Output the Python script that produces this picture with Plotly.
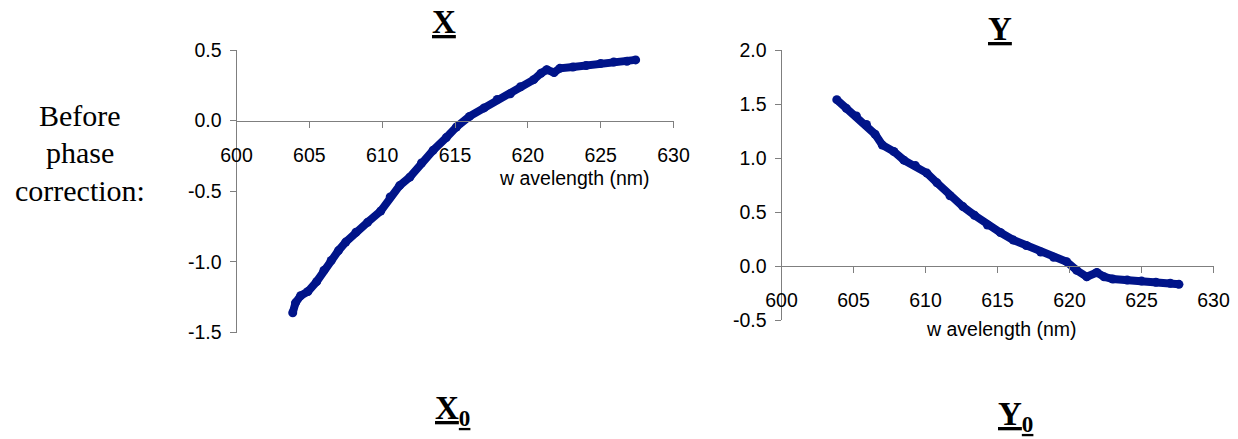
import plotly.graph_objects as go

# ---------------- data ----------------
x_wavelength = [603.86, 604.05, 604.4, 604.9, 605.5, 606.0, 606.5, 607.0, 607.5, 608.2,
                609.0, 609.9, 610.55, 611.2, 611.9, 612.7, 613.5, 614.4, 615.1, 616.0,
                617.0, 617.9, 618.8, 619.5, 620.4, 620.9, 621.3, 621.8, 622.2, 623.1,
                624.0, 625.0, 625.9, 626.8, 627.4]
x_values = [-1.36, -1.29, -1.24, -1.21, -1.14, -1.06, -0.99, -0.92, -0.86, -0.79,
            -0.72, -0.64, -0.54, -0.46, -0.40, -0.30, -0.21, -0.12, -0.045, 0.03,
            0.09, 0.15, 0.19, 0.24, 0.29, 0.335, 0.36, 0.34, 0.37, 0.38,
            0.39, 0.405, 0.415, 0.42, 0.43]

y_wavelength = [603.84, 604.5, 605.2, 605.9, 606.5, 607.0, 607.8, 608.5, 609.3, 610.1,
                610.8, 611.7, 612.6, 613.4, 614.3, 615.2, 616.1, 617.0, 618.0, 618.9,
                619.8, 620.5, 621.2, 621.9, 622.4, 623.0, 624.0, 625.0, 626.0, 627.0,
                627.6]
y_values = [1.54, 1.46, 1.39, 1.31, 1.22, 1.12, 1.06, 0.98, 0.93, 0.86,
            0.77, 0.65, 0.55, 0.47, 0.38, 0.31, 0.24, 0.19, 0.13, 0.08,
            0.04, -0.04, -0.10, -0.06, -0.10, -0.12, -0.13, -0.14, -0.15, -0.16,
            -0.17]

x_ticks = [600, 605, 610, 615, 620, 625, 630]
left_y_ticks = [-1.5, -1.0, -0.5, 0.0, 0.5]
left_y_labels = ["-1.5", "-1.0", "-0.5", "0.0", "0.5"]
right_y_ticks = [-0.5, 0.0, 0.5, 1.0, 1.5, 2.0]
right_y_labels = ["-0.5", "0.0", "0.5", "1.0", "1.5", "2.0"]

W, H = 1238, 439
SERIES_COLOR = "#001489"
AXIS_COLOR = "#7f7f7f"
SANS = "Liberation Sans, Arial, sans-serif"
SERIF = "Liberation Serif, Times New Roman, serif"


def px_x(p):
    return p / W


def px_y(p):
    return 1 - p / H


# plot-area domains (pixels -> paper)
left_xdom = [px_x(236.5), px_x(673.5)]
left_ydom = [px_y(332.5), px_y(50)]
right_xdom = [px_x(781.5), px_x(1213.5)]
right_ydom = [px_y(320), px_y(50)]
left_yrange = [-1.5, 0.5]
right_yrange = [-0.5, 2.0]


def zero_pos(dom, rng):
    return dom[0] + (0 - rng[0]) / (rng[1] - rng[0]) * (dom[1] - dom[0])


fig = go.Figure()
marker_style = dict(color=SERIES_COLOR, size=9)
line_style = dict(color=SERIES_COLOR, width=8)

fig.add_trace(go.Scatter(x=x_wavelength, y=x_values, mode="lines+markers",
                         marker=marker_style, line=line_style,
                         xaxis="x", yaxis="y", showlegend=False))
fig.add_trace(go.Scatter(x=y_wavelength, y=y_values, mode="lines+markers",
                         marker=marker_style, line=line_style,
                         xaxis="x2", yaxis="y2", showlegend=False))

tickfont = dict(family=SANS, size=19.5, color="#000000")

common_x = dict(range=[600, 630], tickvals=x_ticks, ticks="outside", ticklen=6,
                tickcolor=AXIS_COLOR, showline=True, linecolor=AXIS_COLOR, linewidth=1,
                showgrid=False, zeroline=False, tickfont=tickfont, anchor="free",
                side="bottom", ticklabelstandoff=11, automargin=False)
common_y = dict(ticks="outside", ticklen=6, tickcolor=AXIS_COLOR, showline=True,
                linecolor=AXIS_COLOR, linewidth=1, showgrid=False, zeroline=False,
                tickfont=tickfont, ticklabelstandoff=4, automargin=False)

fig.update_layout(
    template="none",
    width=W, height=H,
    autosize=False,
    margin=dict(l=0, r=0, t=0, b=0, pad=0, autoexpand=False),
    paper_bgcolor="white", plot_bgcolor="white",
    xaxis=dict(domain=left_xdom, position=zero_pos(left_ydom, left_yrange), **common_x),
    yaxis=dict(domain=left_ydom, range=left_yrange, tickvals=left_y_ticks,
               ticktext=left_y_labels, anchor="x", **common_y),
    xaxis2=dict(domain=right_xdom, position=zero_pos(right_ydom, right_yrange), **common_x),
    yaxis2=dict(domain=right_ydom, range=right_yrange, tickvals=right_y_ticks,
                ticktext=right_y_labels, anchor="x2", **common_y),
)


def note(text, x, y, size, family, xanchor="center", yanchor="middle"):
    fig.add_annotation(text=text, x=px_x(x), y=px_y(y), xref="paper", yref="paper",
                       showarrow=False, xanchor=xanchor, yanchor=yanchor,
                       font=dict(family=family, size=size, color="#000000"))


# titles
note("<u><b>X</b></u>", 444, 22, 33, SERIF)
note("<u><b>Y</b></u>", 999.6, 29, 33, SERIF)
note("<u><b>X<sub>0</sub></b></u>", 433, 410, 33, SERIF, xanchor="left")
note("<u><b>Y<sub>0</sub></b></u>", 996, 416, 33, SERIF, xanchor="left")

# side label
note("Before", 80, 115, 30, SERIF)
note("phase", 80, 152, 30, SERIF)
note("correction:", 80, 190, 30, SERIF)

# axis titles
note("w avelength (nm)", 574, 178, 19.5, SANS)
note("w avelength (nm)", 1001, 329, 19.5, SANS)

fig.write_html("out.html")
